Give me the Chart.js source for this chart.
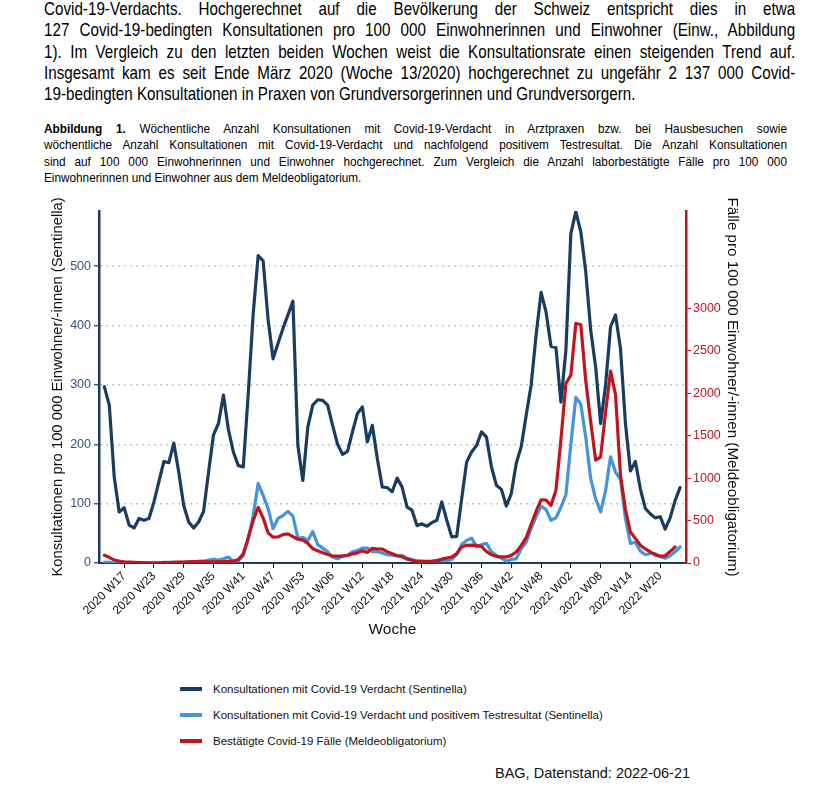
<!DOCTYPE html>
<html>
<head>
<meta charset="utf-8">
<script src="https://cdn.jsdelivr.net/npm/chart.js@4.4.1/dist/chart.umd.min.js"></script>
<style>
  body { margin: 0; width: 840px; height: 794px; position: relative; background: #fff; color: #000;
         font-family: "Liberation Sans", Arial, sans-serif; overflow: hidden; }
  .para { position: absolute; left: 44px; top: -2px; font-size: 19px; line-height: 21.3px; }
  .para div { width: 939px; transform: scaleX(0.8); transform-origin: 0 0; white-space: nowrap;
              text-align: justify; text-align-last: justify; }
  .caption { position: absolute; left: 44px; top: 121px; font-size: 13.5px; line-height: 16.3px; }
  .caption div { width: 852px; transform: scaleX(0.872); transform-origin: 0 0; white-space: nowrap;
                 text-align: justify; text-align-last: justify; }
  .para div.last, .caption div.last { text-align-last: left; }
  #wrap { position: absolute; left: 0; top: 195px; width: 840px; height: 448px; }
  #legend { position: absolute; left: 180px; top: 676px; font-size: 11.5px; color: #111; }
  #legend .item { height: 26px; display: flex; align-items: center; }
  #legend .sw { width: 22px; height: 3.5px; margin-right: 11px; }
  .source { position: absolute; left: 495px; top: 765px; font-size: 14.5px; color: #111; }
</style>
</head>
<body>
<div class="para">
  <div>Covid-19-Verdachts. Hochgerechnet auf die Bevölkerung der Schweiz entspricht dies in etwa</div>
  <div>127 Covid-19-bedingten Konsultationen pro 100 000 Einwohnerinnen und Einwohner (Einw., Abbildung</div>
  <div>1). Im Vergleich zu den letzten beiden Wochen weist die Konsultationsrate einen steigenden Trend auf.</div>
  <div>Insgesamt kam es seit Ende März 2020 (Woche 13/2020) hochgerechnet zu ungefähr 2 137 000 Covid-</div>
  <div class="last">19-bedingten Konsultationen in Praxen von Grundversorgerinnen und Grundversorgern.</div>
</div>
<div class="caption">
  <div><b>Abbildung 1.</b> Wöchentliche Anzahl Konsultationen mit Covid-19-Verdacht in Arztpraxen bzw. bei Hausbesuchen sowie</div>
  <div>wöchentliche Anzahl Konsultationen mit Covid-19-Verdacht und nachfolgend positivem Testresultat. Die Anzahl Konsultationen</div>
  <div>sind auf 100 000 Einwohnerinnen und Einwohner hochgerechnet. Zum Vergleich die Anzahl laborbestätigte Fälle pro 100 000</div>
  <div class="last">Einwohnerinnen und Einwohner aus dem Meldeobligatorium.</div>
</div>
<div id="wrap"><canvas id="chart" width="840" height="448"></canvas></div>
<div id="legend"></div>
<div class="source">BAG, Datenstand: 2022-06-21</div>

<script>
// weeks 2020 W13 .. 2022 W24 (2020 has 53 weeks)
const weeks = [];
for (let w = 13; w <= 53; w++) weeks.push("2020 W" + String(w).padStart(2, "0"));
for (let w = 1; w <= 52; w++) weeks.push("2021 W" + String(w).padStart(2, "0"));
for (let w = 1; w <= 24; w++) weeks.push("2022 W" + String(w).padStart(2, "0"));

const tickWeeks = ["2020 W17", "2020 W23", "2020 W29", "2020 W35", "2020 W41", "2020 W47", "2020 W53",
  "2021 W06", "2021 W12", "2021 W18", "2021 W24", "2021 W30", "2021 W36", "2021 W42", "2021 W48",
  "2022 W02", "2022 W08", "2022 W14", "2022 W20"];

// Konsultationen mit Covid-19 Verdacht (Sentinella), pro 100 000
const suspected = [297, 266, 145, 86, 93, 64, 59, 75, 72, 75,
  103, 137, 171, 169, 202, 153, 97, 69, 59, 69,
  87, 153, 216, 235, 283, 225, 187, 164, 162, 285,
  420, 518, 509, 410, 344, 370, 395, 418, 441, 198,
  139, 229, 266, 275, 274, 266, 232, 200, 183, 188,
  221, 252, 263, 204, 232, 176, 128, 127, 120, 143,
  128, 94, 89, 63, 66, 62, 68, 72, 103, 72,
  44, 45, 108, 170, 187, 198, 221, 212, 162, 131,
  124, 96, 117, 168, 196, 249, 300, 384, 456, 423,
  365, 363, 271, 358, 555, 592, 558, 491, 392, 330,
  235, 300, 398, 418, 361, 235, 155, 171, 125, 92,
  83, 76, 78, 57, 76, 105, 127];

// Konsultationen mit Verdacht und positivem Testresultat (Sentinella)
const positive = [1, 1, 0, 0, 0, 0, 0, 0, 0, 0,
  0, 0, 1, 1, 1, 1, 1, 2, 2, 3,
  3, 5, 6, 5, 7, 10, 3, 4, 12, 40,
  80, 134, 114, 92, 58, 75, 80, 87, 79, 42,
  43, 38, 53, 31, 25, 19, 10, 7, 12, 13,
  19, 21, 25, 25, 19, 19, 17, 14, 13, 12,
  13, 8, 6, 3, 3, 2, 3, 4, 4, 4,
  6, 14, 31, 38, 42, 27, 31, 33, 19, 13,
  8, 3, 6, 7, 24, 35, 58, 78, 96, 90,
  72, 76, 94, 115, 200, 279, 268, 212, 142, 108,
  86, 122, 179, 153, 141, 75, 33, 35, 20, 14,
  16, 16, 11, 8, 12, 19, 27];

// Bestätigte Covid-19 Fälle (Meldeobligatorium), pro 100 000 – one week shorter
const cases = [90, 67, 35, 22, 14, 10, 7, 5, 4, 3,
  3, 3, 4, 6, 8, 10, 12, 14, 16, 15,
  16, 15, 14, 14, 16, 18, 20, 40, 110, 300,
  500, 655, 530, 355, 305, 307, 334, 344, 310, 280,
  270, 232, 169, 145, 120, 100, 80, 80, 80, 88,
  108, 120, 143, 124, 173, 165, 165, 134, 110, 85,
  73, 45, 32, 20, 20, 18, 20, 28, 45, 59,
  71, 110, 189, 208, 210, 208, 195, 135, 98, 79,
  71, 71, 90, 130, 208, 300, 455, 610, 745, 740,
  680, 857, 1450, 2115, 2213, 2822, 2810, 2150, 1663, 1211,
  1250, 1780, 2260, 1985, 1034, 630, 365, 290, 210, 165,
  130, 95, 80, 85, 135, 190];

const leftTicks = [0, 100, 200, 300, 400, 500];
const rightTicks = [0, 500, 1000, 1500, 2000, 2500, 3000];

const seriesLabels = [
  "Konsultationen mit Covid-19 Verdacht (Sentinella)",
  "Konsultationen mit Covid-19 Verdacht und positivem Testresultat (Sentinella)",
  "Bestätigte Covid-19 Fälle (Meldeobligatorium)"
];
const NAVY = "#1a3c63", LIGHT = "#4694dc", RED = "#bf151d";
const colors = [NAVY, LIGHT, RED];

const toXY = arr => arr.map((v, i) => ({ x: i, y: v }));
const tickIdx = tickWeeks.map(w => weeks.indexOf(w));

const font = { family: "'Liberation Sans', Arial, sans-serif" };

new Chart(document.getElementById("chart"), {
  type: "line",
  data: {
    datasets: [
      { label: seriesLabels[0], data: toXY(suspected), yAxisID: "y", borderColor: NAVY, order: 3 },
      { label: seriesLabels[1], data: toXY(positive), yAxisID: "y", borderColor: LIGHT, order: 2 },
      { label: seriesLabels[2], data: toXY(cases), yAxisID: "y2", borderColor: RED, order: 1 }
    ]
  },
  options: {
    responsive: false,
    animation: false,
    layout: { padding: { top: 16, left: 45, right: 95, bottom: 0 } },
    elements: {
      line: { borderWidth: 3.2, tension: 0, borderJoinStyle: "round", borderCapStyle: "round" },
      point: { radius: 0 }
    },
    plugins: { legend: { display: false }, tooltip: { enabled: false } },
    scales: {
      x: {
        type: "linear",
        min: -1.07,
        max: 117.2,
        afterBuildTicks: s => { s.ticks = tickIdx.map(v => ({ value: v })); },
        afterFit: s => { s.height = 80; },
        ticks: {
          autoSkip: false, maxRotation: 45, minRotation: 45, padding: 1,
          color: "#111", font: { ...font, size: 12 },
          callback: v => weeks[v]
        },
        grid: { drawOnChartArea: false, drawTicks: true, tickLength: 5, tickColor: "#222", tickWidth: 1 },
        border: { display: true, color: NAVY, width: 2 },
        title: { display: true, text: "Woche", color: "#111", font: { ...font, size: 15.5 }, padding: { top: 0, bottom: 4 } }
      },
      y: {
        position: "left",
        min: 0,
        max: 593,
        afterBuildTicks: s => { s.ticks = leftTicks.map(v => ({ value: v })); },
        afterFit: s => { s.width = 54; },
        ticks: { color: "#2f5580", font: { ...font, size: 12.5 }, padding: 3, callback: v => String(v) },
        grid: {
          color: c => (c.tick && c.tick.value === 0 ? "rgba(0,0,0,0)" : "#b3b3b3"),
          lineWidth: 1.5, tickLength: 5, tickColor: NAVY, tickWidth: 1.2
        },
        border: { display: true, color: NAVY, width: 2.5, dash: [1.5, 4.5] },
        title: { display: true, text: "Konsultationen pro 100 000 Einwohner/-innen (Sentinella)", color: "#111",
                 font: { ...font, size: 14.8 }, padding: { top: 4, bottom: 4 } }
      },
      y2: {
        position: "right",
        min: 0,
        max: 4147,
        afterBuildTicks: s => { s.ticks = rightTicks.map(v => ({ value: v })); },
        afterFit: s => { s.width = 59; },
        ticks: { color: RED, font: { ...font, size: 12.5 }, padding: 2, callback: v => String(v) },
        grid: { drawOnChartArea: false, tickLength: 5, tickColor: RED, tickWidth: 1.2 },
        border: { display: true, color: RED, width: 2.5 },
        title: { display: true, text: "Fälle pro 100 000 Einwohner/-innen (Meldeobligatorium)", color: "#111",
                 font: { ...font, size: 15.2 }, padding: { top: 4, bottom: 4 } }
      }
    }
  }
});

const legend = document.getElementById("legend");
seriesLabels.forEach((label, i) => {
  const item = document.createElement("div");
  item.className = "item";
  const sw = document.createElement("span");
  sw.className = "sw";
  sw.style.background = colors[i];
  const txt = document.createElement("span");
  txt.textContent = label;
  item.appendChild(sw);
  item.appendChild(txt);
  legend.appendChild(item);
});
</script>
</body>
</html>
